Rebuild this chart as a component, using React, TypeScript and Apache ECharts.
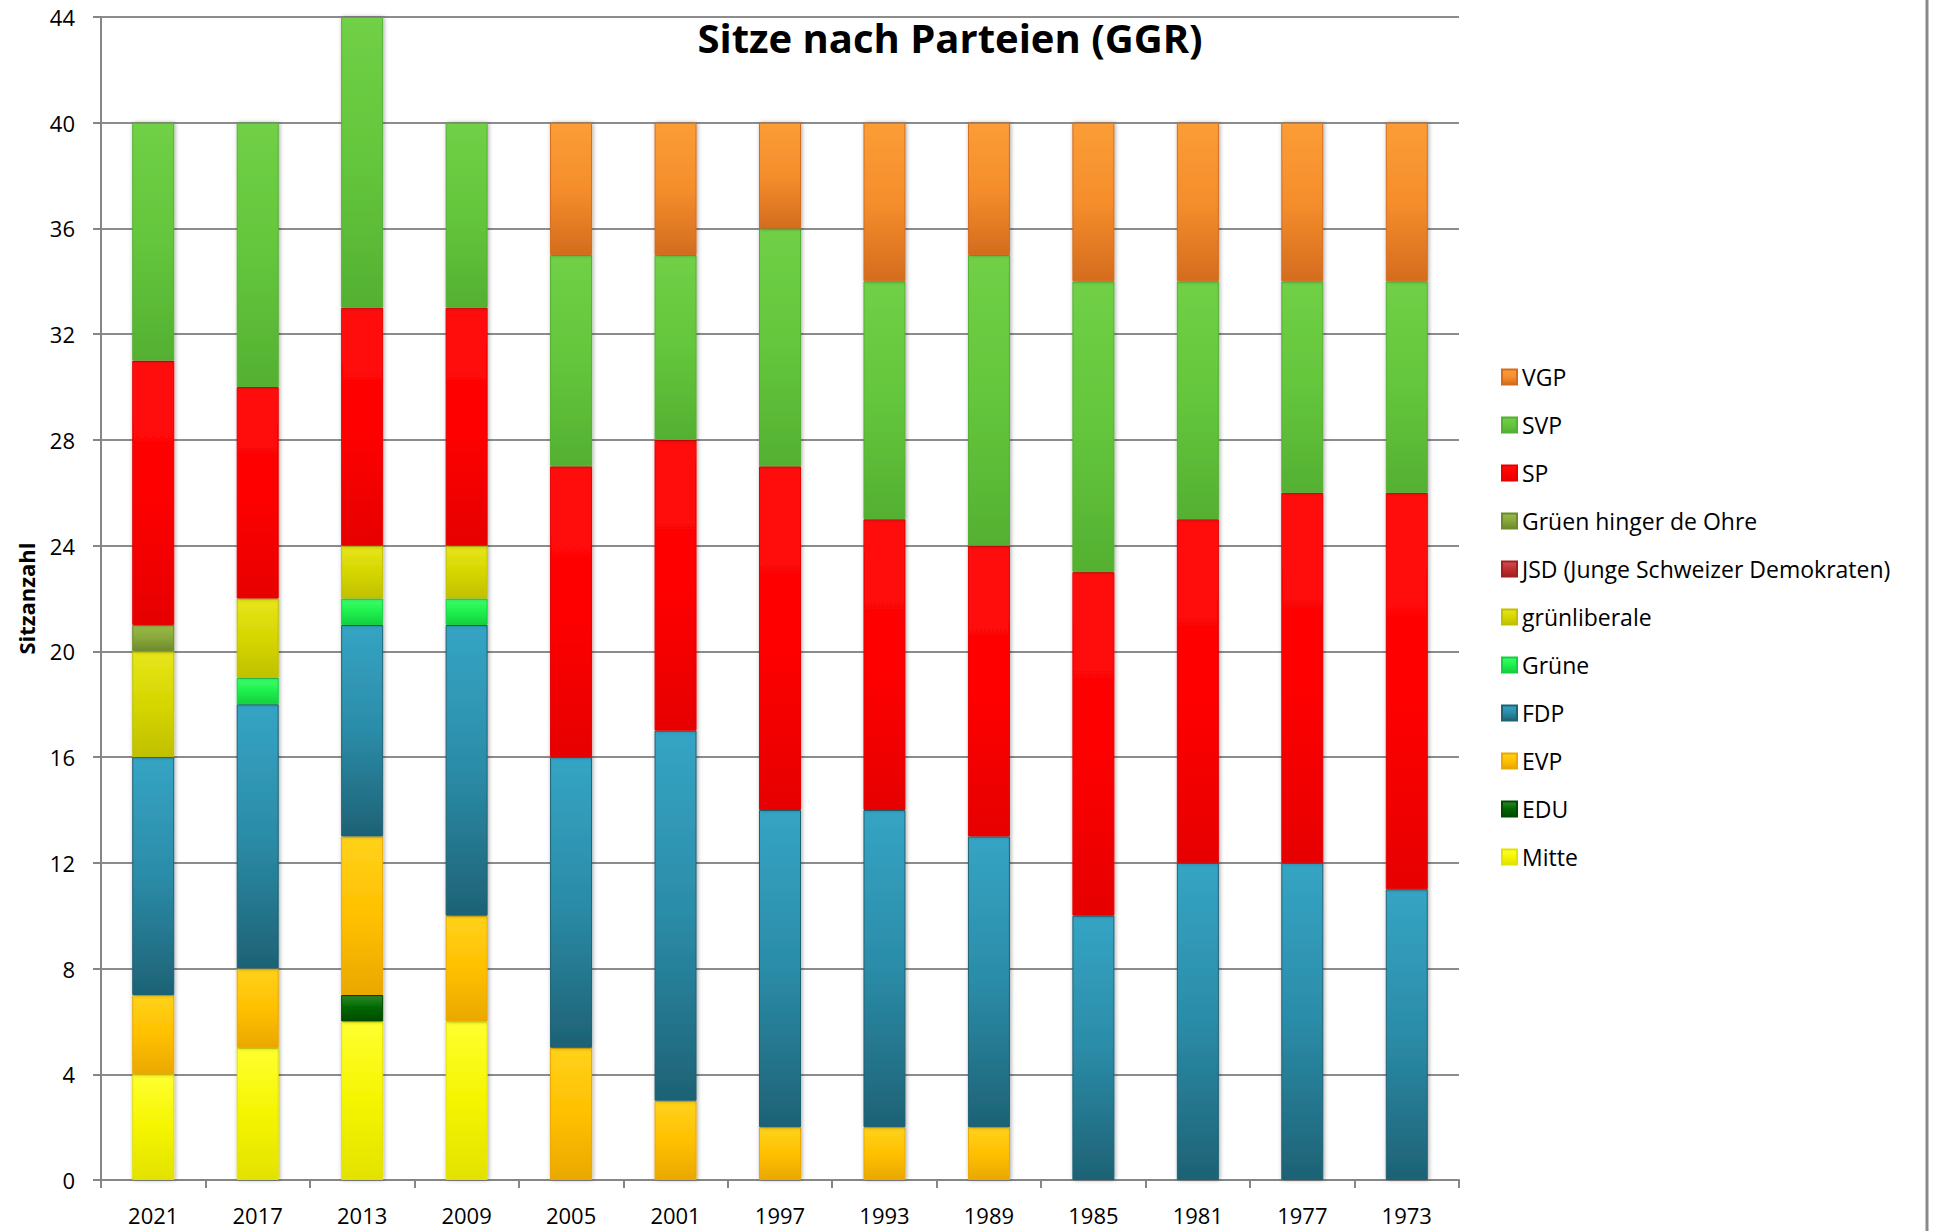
import React, { useEffect, useRef } from "react";
import * as echarts from "echarts";

const years = ["2021", "2017", "2013", "2009", "2005", "2001", "1997", "1993", "1989", "1985", "1981", "1977", "1973"];

const mitte = [4, 5, 6, 6, 0, 0, 0, 0, 0, 0, 0, 0, 0];
const edu = [0, 0, 1, 0, 0, 0, 0, 0, 0, 0, 0, 0, 0];
const evp = [3, 3, 6, 4, 5, 3, 2, 2, 2, 0, 0, 0, 0];
const fdp = [9, 10, 8, 11, 11, 14, 12, 12, 11, 10, 12, 12, 11];
const gruene = [0, 1, 1, 1, 0, 0, 0, 0, 0, 0, 0, 0, 0];
const gruenliberale = [4, 3, 2, 2, 0, 0, 0, 0, 0, 0, 0, 0, 0];
const jsd = [0, 0, 0, 0, 0, 0, 0, 0, 0, 0, 0, 0, 0];
const gruenHinger = [1, 0, 0, 0, 0, 0, 0, 0, 0, 0, 0, 0, 0];
const sp = [10, 8, 9, 9, 11, 11, 13, 11, 11, 13, 13, 14, 15];
const svp = [9, 10, 11, 7, 8, 7, 9, 9, 11, 11, 9, 8, 8];
const vgp = [0, 0, 0, 0, 5, 5, 4, 6, 5, 6, 6, 6, 6];

const yTicks = [0, 4, 8, 12, 16, 20, 24, 28, 32, 36, 40, 44];

const seriesDefs = [
  { name: "Mitte", data: mitte, c: ["#ffff30", "#f5f500", "#e2e200"] },
  { name: "EDU", data: edu, c: ["#2a8a2a", "#006600", "#004a00"] },
  { name: "EVP", data: evp, c: ["#ffd21a", "#ffc000", "#eaa800"] },
  { name: "FDP", data: fdp, c: ["#35a4c4", "#2b8ca8", "#1e6275"] },
  { name: "Grüne", data: gruene, c: ["#3dff6a", "#1ef04c", "#14d040"] },
  { name: "grünliberale", data: gruenliberale, c: ["#e6e61a", "#d6d600", "#c0c000"] },
  { name: "JSD (Junge Schweizer Demokraten)", data: jsd, c: ["#d65050", "#c03030", "#a02020"] },
  { name: "Grüen hinger de Ohre", data: gruenHinger, c: ["#9abb48", "#87a83a", "#6d8a2c"] },
  { name: "SP", data: sp, c: ["#ff1010", "#ff0000", "#e60000"] },
  { name: "SVP", data: svp, c: ["#70d046", "#64c63c", "#54b032"] },
  { name: "VGP", data: vgp, c: ["#fb9d36", "#f58e2c", "#d46c1e"] },
];

const FONT = "'Open Sans', sans-serif";

export default function App() {
  const ref = useRef<HTMLDivElement>(null);
  useEffect(() => {
    if (!ref.current) return;
    const chart = echarts.init(ref.current, null, { renderer: "svg" });
    const series = seriesDefs.map((s) => ({
      name: s.name,
      type: "bar",
      stack: "total",
      barWidth: 42,
      data: s.data.map((v) => (v === 0 ? "-" : v)),
      itemStyle: {
        color: new echarts.graphic.LinearGradient(0, 0, 0, 1, [
          { offset: 0, color: s.c[0] },
          { offset: 0.5, color: s.c[1] },
          { offset: 1, color: s.c[2] },
        ]),
        borderColor: s.c[2],
        borderWidth: 1,
        shadowBlur: 4,
        shadowColor: "rgba(0,0,0,0.35)",
        shadowOffsetX: 1,
        shadowOffsetY: 0,
      },
    }));
    chart.setOption({
      animation: false,
      backgroundColor: "#ffffff",
      title: {
        text: "Sitze nach Parteien (GGR)",
        left: 945,
        top: 12,
        textAlign: "center",
        textStyle: { fontFamily: FONT, fontWeight: "bold", fontSize: 40, color: "#000" },
      },
      legend: {
        orient: "vertical",
        left: 1496,
        top: 360,
        itemWidth: 15,
        itemHeight: 15,
        itemGap: 24,
        icon: "rect",
        data: seriesDefs.map((s) => s.name).reverse(),
        textStyle: { fontFamily: FONT, fontSize: 23, color: "#000", lineHeight: 24 },
      },
      grid: { left: 101, right: 475, top: 17, bottom: 51, containLabel: false },
      xAxis: {
        type: "category",
        data: years,
        axisLine: { lineStyle: { color: "#868686", width: 2 } },
        axisTick: { show: true, length: 8, lineStyle: { color: "#868686", width: 2 } },
        axisLabel: { fontFamily: FONT, fontSize: 22, color: "#000", margin: 24 },
      },
      yAxis: {
        type: "value",
        min: 0,
        max: 44,
        interval: 4,
        name: "Sitzanzahl",
        nameLocation: "middle",
        nameGap: 64,
        nameTextStyle: { fontFamily: FONT, fontWeight: "bold", fontSize: 22, color: "#000" },
        axisLine: { show: true, lineStyle: { color: "#868686", width: 2 } },
        axisTick: { show: true, length: 8, lineStyle: { color: "#868686", width: 2 } },
        axisLabel: {
          fontFamily: FONT,
          fontSize: 22,
          color: "#000",
          margin: 26,
          formatter: (v: number) => (yTicks.includes(v) ? String(v) : ""),
        },
        splitLine: { show: true, lineStyle: { color: "#8c8c8c", width: 2 } },
      },
      graphic: [
        {
          type: "line",
          shape: { x1: 1927, y1: 0, x2: 1927, y2: 1231 },
          style: { stroke: "#8a8a8a", lineWidth: 3 },
        },
      ],
      series,
    });
    return () => chart.dispose();
  }, []);
  return (
    <div
      ref={ref}
      style={{ position: "fixed", left: 0, top: 0, width: 1934, height: 1231, background: "#fff" }}
    />
  );
}
